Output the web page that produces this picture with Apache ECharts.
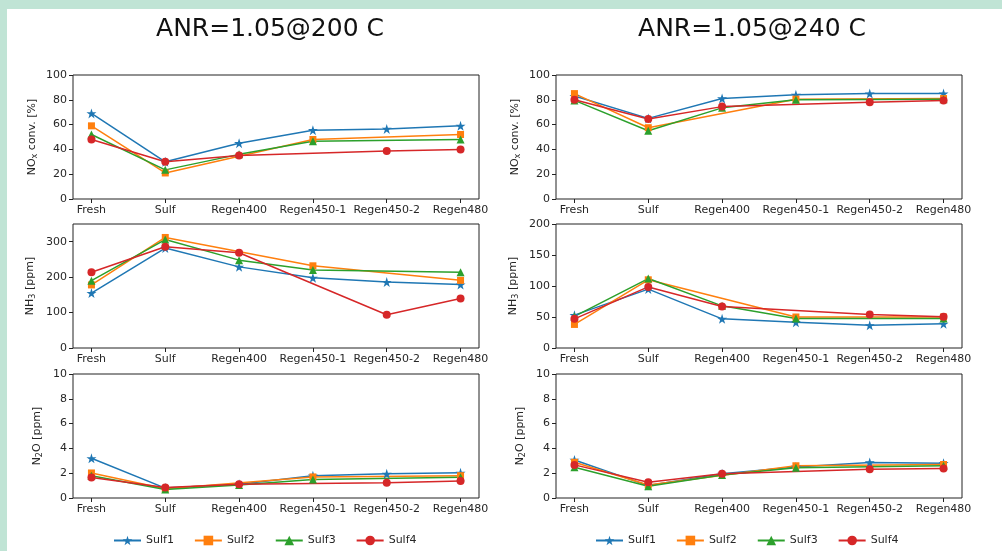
<!DOCTYPE html>
<html>
<head>
<meta charset="utf-8">
<script src="https://cdn.jsdelivr.net/npm/echarts@6/dist/echarts.min.js"></script>
<style>
  html, body { margin: 0; padding: 0; background: #c0e4d5; }
  #sheet { position: absolute; left: 7px; top: 9px; width: 995px; height: 542px; background: #ffffff; }
  #chart { position: absolute; left: 0; top: 0; width: 1002px; height: 551px; }
</style>
</head>
<body>
<div id="sheet"></div>
<div id="chart"></div>
<script>
// Process steps on the x axis
const categories = ['Fresh', 'Sulf', 'Regen400', 'Regen450-1', 'Regen450-2', 'Regen480'];
const seriesNames = ['Sulf1', 'Sulf2', 'Sulf3', 'Sulf4'];
const panelTitles = ['ANR=1.05@200 C', 'ANR=1.05@240 C'];

// NOx conversion [%] at 200 C (null = step not measured)
const nox200Sulf1 = [69, 30, 45, 55.5, 56.5, 59];
const nox200Sulf2 = [59, 21, null, 48, null, 52];
const nox200Sulf3 = [52, 23.5, 36, 46.5, null, 48];
const nox200Sulf4 = [48, 30, 35, null, 38.7, 40];
// NOx conversion [%] at 240 C
const nox240Sulf1 = [83, 65, 81, 84, 85, 85];
const nox240Sulf2 = [85, 57.5, null, 80.5, null, 81];
const nox240Sulf3 = [79.5, 55, 73.5, 80, null, 80.5];
const nox240Sulf4 = [80, 64.5, 74.5, null, 78, 79.5];

// NH3 slip [ppm] at 200 C
const nh3200Sulf1 = [155, 282, 229, 198, 186, 179];
const nh3200Sulf2 = [178, 312, null, 232, null, 191];
const nh3200Sulf3 = [190, 306, 248, 220, null, 214];
const nh3200Sulf4 = [214, 286, 269, null, 94, 140];
// NH3 slip [ppm] at 240 C
const nh3240Sulf1 = [53, 95, 47, 41.5, 36.5, 39];
const nh3240Sulf2 = [38, 110, null, 50, null, 50];
const nh3240Sulf3 = [51, 112, 68, 47.5, null, 47.5];
const nh3240Sulf4 = [47, 98.5, 67, null, 54, 50.5];

// N2O [ppm] at 200 C
const n2o200Sulf1 = [3.2, 0.8, 1.1, 1.8, 1.95, 2.03];
const n2o200Sulf2 = [2.02, 0.75, null, 1.7, null, 1.8];
const n2o200Sulf3 = [1.8, 0.68, 1.05, 1.5, null, 1.67];
const n2o200Sulf4 = [1.65, 0.85, 1.1, null, 1.22, 1.37];
// N2O [ppm] at 240 C
const n2o240Sulf1 = [3.07, 1.0, 1.95, 2.5, 2.86, 2.8];
const n2o240Sulf2 = [2.88, 1.05, null, 2.6, null, 2.7];
const n2o240Sulf3 = [2.48, 0.95, 1.85, 2.43, null, 2.6];
const n2o240Sulf4 = [2.67, 1.27, 1.95, null, 2.32, 2.38];

// Y tick values per panel
const noxTicks = [0, 20, 40, 60, 80, 100];
const nh3Ticks200 = [0, 100, 200, 300];
const nh3Ticks240 = [0, 50, 100, 150, 200];
const n2oTicks = [0, 2, 4, 6, 8, 10];
const xTicks = [0, 1, 2, 3, 4, 5];

const FONT = 'DejaVu Sans';
const INK = '#262626';
const colors = ['#1f77b4', '#ff7f0e', '#2ca02c', '#d62728'];
const STAR = 'path://M50,0 L61.2,34.5 L97.6,34.5 L68.2,55.9 L79.4,90.5 L50,69.1 L20.6,90.5 L31.8,55.9 L2.4,34.5 L38.8,34.5 Z';
const symbols = [STAR, 'rect', 'triangle', 'circle'];
const symbolSizes = [10, 7, 8, 8];

// panels: [row][col]
const panels = [
  [
    { name: 'NO{s|x} conv. [%]', max: 100, ticks: noxTicks, gap: 34, data: [nox200Sulf1, nox200Sulf2, nox200Sulf3, nox200Sulf4] },
    { name: 'NO{s|x} conv. [%]', max: 100, ticks: noxTicks, gap: 34, data: [nox240Sulf1, nox240Sulf2, nox240Sulf3, nox240Sulf4] }
  ],
  [
    { name: 'NH{s|3} [ppm]', max: 350, ticks: nh3Ticks200, gap: 36, data: [nh3200Sulf1, nh3200Sulf2, nh3200Sulf3, nh3200Sulf4] },
    { name: 'NH{s|3} [ppm]', max: 200, ticks: nh3Ticks240, gap: 36, data: [nh3240Sulf1, nh3240Sulf2, nh3240Sulf3, nh3240Sulf4] }
  ],
  [
    { name: 'N{s|2}O [ppm]', max: 10, ticks: n2oTicks, gap: 29, data: [n2o200Sulf1, n2o200Sulf2, n2o200Sulf3, n2o200Sulf4] },
    { name: 'N{s|2}O [ppm]', max: 10, ticks: n2oTicks, gap: 29, data: [n2o240Sulf1, n2o240Sulf2, n2o240Sulf3, n2o240Sulf4] }
  ]
];

const gridLefts = [73, 556];
const gridTops = [75, 224, 374];
const gridWidth = 406;
const gridHeight = 124;

const grid = [], xAxis = [], yAxis = [], series = [];
const tickStyle = { show: true, inside: false, length: 4, lineStyle: { color: '#222', width: 1 } };
const hiddenLine = { show: false, onZero: false };

for (let row = 0; row < 3; row++) {
  for (let col = 0; col < 2; col++) {
    const p = panels[row][col];
    const idx = grid.length;
    grid.push({
      left: gridLefts[col], top: gridTops[row], width: gridWidth, height: gridHeight,
      show: true, borderColor: '#222', borderWidth: 1, backgroundColor: 'transparent'
    });
    xAxis.push({
      type: 'value', gridIndex: idx, position: 'bottom', min: -0.25, max: 5.25,
      splitLine: { show: false }, axisLine: hiddenLine,
      axisTick: Object.assign({ customValues: xTicks }, tickStyle),
      axisLabel: {
        customValues: xTicks, margin: 6, fontFamily: FONT, fontSize: 11, color: INK,
        formatter: v => categories[v]
      }
    });
    yAxis.push({
      type: 'value', gridIndex: idx, position: 'left', min: 0, max: p.max,
      splitLine: { show: false }, axisLine: hiddenLine,
      axisTick: Object.assign({ customValues: p.ticks }, tickStyle),
      axisLabel: { customValues: p.ticks, margin: 6, fontFamily: FONT, fontSize: 11, color: INK },
      name: p.name, nameLocation: 'middle', nameGap: p.gap, nameRotate: 90,
      nameTextStyle: {
        fontFamily: FONT, fontSize: 11, color: INK, lineHeight: 14,
        rich: { s: { fontFamily: FONT, fontSize: 8, color: INK, lineHeight: 6, verticalAlign: 'bottom' } }
      }
    });
    p.data.forEach((vals, k) => {
      const pts = [];
      vals.forEach((v, i) => { if (v !== null) pts.push([i, v]); });
      series.push({
        type: 'line', name: seriesNames[k], xAxisIndex: idx, yAxisIndex: idx,
        data: pts, symbol: symbols[k], symbolSize: symbolSizes[k],
        showAllSymbol: true, animation: false,
        lineStyle: { color: colors[k], width: 1.5 },
        itemStyle: { color: colors[k], borderWidth: 0 },
        emphasis: { disabled: true }
      });
    });
  }
}

const legendCommon = {
  data: seriesNames, orient: 'horizontal', top: 535, padding: 0,
  itemWidth: 27, itemHeight: 12, itemGap: 20,
  textStyle: { fontFamily: FONT, fontSize: 11, color: INK }
};

const option = {
  animation: false,
  color: colors,
  title: [
    { text: panelTitles[0], left: 270, top: 17, padding: 0, textAlign: 'center',
      textStyle: { fontFamily: FONT, fontSize: 25, fontWeight: 'normal', color: '#111' } },
    { text: panelTitles[1], left: 752, top: 17, padding: 0, textAlign: 'center',
      textStyle: { fontFamily: FONT, fontSize: 25, fontWeight: 'normal', color: '#111' } }
  ],
  legend: [
    Object.assign({ left: 113 }, legendCommon),
    Object.assign({ left: 595 }, legendCommon)
  ],
  grid, xAxis, yAxis, series
};

const chart = echarts.init(document.getElementById('chart'), null, { renderer: 'canvas' });
chart.setOption(option);
</script>
</body>
</html>
